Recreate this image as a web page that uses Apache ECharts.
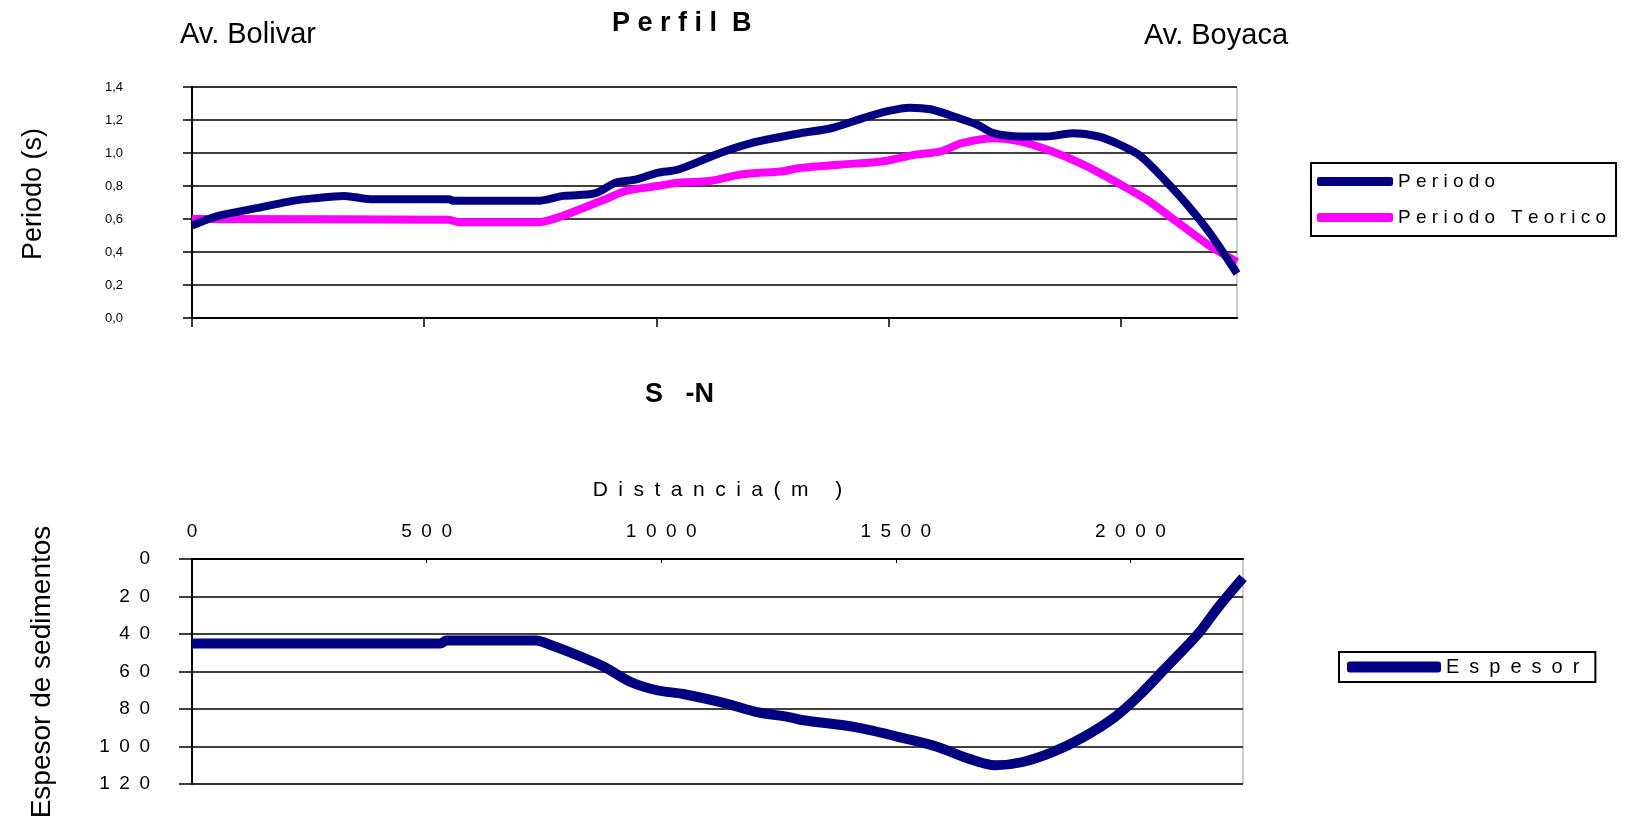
<!DOCTYPE html>
<html>
<head>
<meta charset="utf-8">
<title>Perfil B</title>
<script src="https://cdn.jsdelivr.net/npm/echarts@6/dist/echarts.min.js"></script>
<style>
  html, body { margin: 0; padding: 0; background: #fff; }
  #chart { width: 1626px; height: 830px; }
</style>
</head>
<body>
<div id="chart"></div>
<script>
// distance along the profile (m) and measured / theoretical period (s)
const periodoDist = [0, 58, 148, 216, 261, 328, 384, 553, 564, 744, 800, 867, 912, 957, 1002, 1047, 1137, 1204, 1272, 1310, 1376, 1443, 1500, 1545, 1590, 1647, 1692, 1726, 1783, 1839, 1896, 1952, 1998, 2043, 2100, 2145, 2190, 2250];
const periodoVals = [0.56, 0.62, 0.67, 0.71, 0.725, 0.74, 0.72, 0.72, 0.71, 0.71, 0.74, 0.755, 0.82, 0.84, 0.88, 0.90, 1.00, 1.06, 1.10, 1.12, 1.15, 1.21, 1.255, 1.275, 1.265, 1.215, 1.17, 1.12, 1.10, 1.10, 1.12, 1.10, 1.05, 0.98, 0.82, 0.68, 0.52, 0.27];

const teoricoDist = [0, 553, 575, 744, 789, 845, 890, 935, 1002, 1047, 1115, 1182, 1272, 1310, 1398, 1489, 1557, 1613, 1658, 1726, 1783, 1851, 1919, 1986, 2054, 2122, 2190, 2250];
const teoricoVals = [0.60, 0.595, 0.58, 0.58, 0.61, 0.67, 0.72, 0.77, 0.80, 0.82, 0.83, 0.87, 0.89, 0.91, 0.93, 0.95, 0.99, 1.01, 1.06, 1.09, 1.07, 1.01, 0.93, 0.83, 0.72, 0.58, 0.44, 0.34];

// sediment thickness (m)
const espesorDist = [0, 530, 542, 733, 766, 822, 879, 935, 991, 1047, 1137, 1204, 1272, 1303, 1414, 1524, 1591, 1657, 1712, 1768, 1834, 1900, 1967, 2022, 2077, 2144, 2188, 2240];
const espesorVals = [45, 45, 43.5, 43.5, 46, 51.4, 57.6, 65.6, 70, 72, 77, 81.7, 84.3, 86, 89.7, 96, 100.4, 106.6, 110, 108.4, 103, 95, 84.3, 72, 57.6, 40, 25.5, 10];

const distTicks = [0, 500, 1000, 1500, 2000];

const FONT = '"Liberation Sans", Arial, sans-serif';
const spaced = (s, sep) => String(s).split('').join(sep);

const pairs = (xs, ys) => xs.map((x, i) => [x, ys[i]]);

const initChart = () => {
  var chartDom = document.getElementById('chart');
  var myChart = echarts.init(chartDom);
  var option;

  option = {
    animation: false,
    backgroundColor: '#fff',
    textStyle: { fontFamily: FONT, color: '#000' },
    grid: [
      { left: 192, right: 389, top: 87, bottom: 512, show: true, borderColor: '#9a9a9a', borderWidth: 1 },
      { left: 192, right: 383, top: 559, bottom: 46, show: true, borderColor: '#9a9a9a', borderWidth: 1 }
    ],
    xAxis: [
      {
        gridIndex: 0,
        type: 'value',
        min: 0,
        max: 2250,
        interval: 500,
        axisLine: { lineStyle: { color: '#000', width: 2 } },
        axisTick: { show: true, length: 9, customValues: distTicks, lineStyle: { color: '#000', width: 1.5 } },
        axisLabel: { show: false },
        splitLine: { show: false }
      },
      {
        gridIndex: 1,
        type: 'value',
        position: 'top',
        min: 0,
        max: 2240,
        interval: 500,
        name: spaced('Distancia(m )', '\u2002'),
        nameLocation: 'middle',
        nameGap: 58,
        nameTextStyle: { fontFamily: FONT, fontSize: 21, color: '#000' },
        axisLine: { lineStyle: { color: '#000', width: 2 } },
        axisTick: { show: true, inside: true, length: 4, customValues: distTicks, lineStyle: { color: '#000', width: 1 } },
        axisLabel: {
          customValues: distTicks,
          margin: 18,
          fontFamily: FONT,
          fontSize: 19,
          color: '#000',
          formatter: (v) => spaced(v, '\u2002')
        },
        splitLine: { show: false }
      }
    ],
    yAxis: [
      {
        gridIndex: 0,
        type: 'value',
        min: 0,
        max: 1.4,
        interval: 0.2,
        axisLine: { show: true, lineStyle: { color: '#000', width: 2 } },
        axisTick: { show: true, length: 9, lineStyle: { color: '#000', width: 1.5 } },
        axisLabel: {
          margin: 69,
          align: 'right',
          fontFamily: FONT,
          fontSize: 13,
          color: '#000',
          formatter: (v) => v.toFixed(1).replace('.', ',')
        },
        splitLine: {
          show: true,
          interval: (i, v) => Number(v) > 0 && Number(v) < 1.39,
          lineStyle: { color: '#000', width: 1.5 }
        }
      },
      {
        gridIndex: 1,
        type: 'value',
        inverse: true,
        min: 0,
        max: 120,
        interval: 20,
        axisLine: { show: true, lineStyle: { color: '#000', width: 2 } },
        axisTick: { show: true, length: 13, lineStyle: { color: '#000', width: 1.5 } },
        axisLabel: {
          margin: 42,
          align: 'right',
          fontFamily: FONT,
          fontSize: 19,
          color: '#000',
          formatter: (v) => spaced(v, '\u2002')
        },
        splitLine: {
          show: true,
          interval: (i, v) => Number(v) > 0 && Number(v) < 119,
          lineStyle: { color: '#000', width: 1.5 }
        }
      }
    ],
    legend: [
      {
        left: 1311,
        top: 163,
        orient: 'vertical',
        data: ['Periodo', 'Periodo Teorico'],
        icon: 'roundRect',
        itemWidth: 76,
        itemHeight: 9,
        itemGap: 17,
        padding: [9, 10, 9, 6],
        borderColor: '#000',
        borderWidth: 2,
        borderRadius: 0,
        formatter: (name) => spaced(name, ' '),
        textStyle: { fontFamily: FONT, fontSize: 19, color: '#000' }
      },
      {
        left: 1339,
        top: 652,
        orient: 'vertical',
        data: ['Espesor'],
        icon: 'roundRect',
        itemWidth: 94,
        itemHeight: 11,
        padding: [5, 16, 5, 8],
        borderColor: '#000',
        borderWidth: 2,
        borderRadius: 0,
        formatter: (name) => spaced(name, '\u2002'),
        textStyle: { fontFamily: FONT, fontSize: 20, color: '#000' }
      }
    ],
    series: [
      {
        name: 'Periodo',
        type: 'line',
        xAxisIndex: 0,
        yAxisIndex: 0,
        showSymbol: false,
        smooth: 0.3,
        data: pairs(periodoDist, periodoVals),
        itemStyle: { color: '#000080' },
        lineStyle: { color: '#000080', width: 8 },
        z: 3
      },
      {
        name: 'Periodo Teorico',
        type: 'line',
        xAxisIndex: 0,
        yAxisIndex: 0,
        showSymbol: false,
        smooth: 0.3,
        data: pairs(teoricoDist, teoricoVals),
        itemStyle: { color: '#ff00ff' },
        lineStyle: { color: '#ff00ff', width: 8 },
        z: 2
      },
      {
        name: 'Espesor',
        type: 'line',
        xAxisIndex: 1,
        yAxisIndex: 1,
        showSymbol: false,
        smooth: 0.3,
        data: pairs(espesorDist, espesorVals),
        itemStyle: { color: '#000080' },
        lineStyle: { color: '#000080', width: 10 }
      }
    ],
    graphic: [
      {
        type: 'text', left: 612, top: 10,
        style: { text: spaced('Perfil', ' ') + '  B', font: 'bold 27px ' + FONT, fill: '#000' }
      },
      {
        type: 'text', left: 180, top: 20,
        style: { text: 'Av. Bolivar', font: '29px ' + FONT, fill: '#000' }
      },
      {
        type: 'text', left: 1144, top: 21,
        style: { text: 'Av. Boyaca', font: '29px ' + FONT, fill: '#000' }
      },
      {
        type: 'text', left: 645, top: 381,
        style: { text: 'S   -N', font: 'bold 27px ' + FONT, fill: '#000' }
      },
      {
        type: 'text', x: 34, y: 194, rotation: Math.PI / 2,
        style: { text: 'Periodo (s)', x: 0, y: 0, align: 'center', verticalAlign: 'middle', font: '27px ' + FONT, fill: '#000' }
      },
      {
        type: 'text', x: 42, y: 672, rotation: Math.PI / 2,
        style: { text: 'Espesor de sedimentos', x: 0, y: 0, align: 'center', verticalAlign: 'middle', font: '28px ' + FONT, fill: '#000' }
      }
    ]
  };
  option && myChart.setOption(option);
}

initChart();
</script>
</body>
</html>
